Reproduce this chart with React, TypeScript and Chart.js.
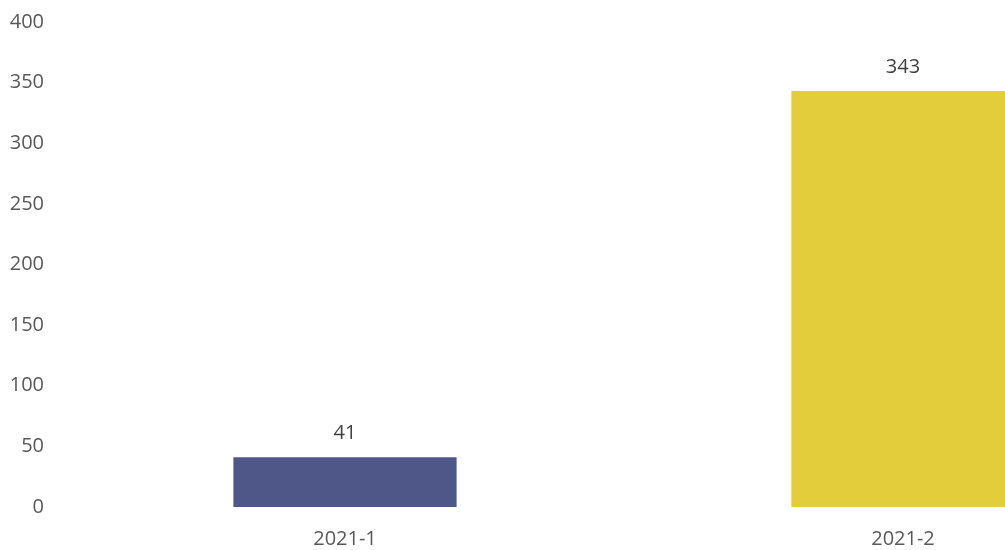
import React, { useEffect, useRef } from "react";
import { Chart, registerables } from "chart.js";

Chart.register(...registerables);

const categories = ["2021-1", "2021-2"];
const values = [41, 343];
const barColors = ["#4F5688", "#E4CD3B"];
const yTicks = [0, 50, 100, 150, 200, 250, 300, 350, 400];

const FONT = "'Open Sans', 'DejaVu Sans', sans-serif";

const valueLabelPlugin = {
  id: "valueLabels",
  afterDatasetsDraw(chart: any) {
    const ctx = chart.ctx;
    const meta = chart.getDatasetMeta(0);
    ctx.save();
    ctx.font = `20px ${FONT}`;
    ctx.fillStyle = "#404040";
    ctx.textAlign = "center";
    ctx.textBaseline = "middle";
    meta.data.forEach((bar: any, i: number) => {
      ctx.fillText(String(values[i]), bar.x, bar.y - 24);
    });
    ctx.restore();
  },
};

export default function App() {
  const ref = useRef<HTMLCanvasElement | null>(null);
  useEffect(() => {
    document.body.style.margin = "0";
    const chart = new Chart(ref.current!, {
      type: "bar",
      data: {
        labels: categories,
        datasets: [
          {
            data: values,
            backgroundColor: barColors,
            barPercentage: 0.4,
            categoryPercentage: 1,
          },
        ],
      },
      options: {
        animation: false,
        responsive: false,
        maintainAspectRatio: false,
        layout: { padding: { top: 22, right: 18, left: 0, bottom: 0 } },
        plugins: { legend: { display: false }, tooltip: { enabled: false } },
        scales: {
          x: {
            grid: { display: false, drawTicks: false },
            border: { display: false },
            ticks: {
              color: "#595959",
              font: { family: FONT, size: 20 },
              padding: 20,
              maxRotation: 0,
            },
            afterFit: (s: any) => {
              s.height = 43;
            },
          },
          y: {
            min: 0,
            max: 400,
            grid: { display: false, drawTicks: false },
            border: { display: false },
            afterBuildTicks: (s: any) => {
              s.ticks = yTicks.map((v) => ({ value: v }));
            },
            ticks: {
              color: "#595959",
              font: { family: FONT, size: 20 },
              padding: 22,
            },
            afterFit: (s: any) => {
              s.width = 66;
              s.paddingTop = 0;
              s.paddingBottom = 0;
            },
          },
        },
      },
      plugins: [valueLabelPlugin],
    });
    return () => chart.destroy();
  }, []);
  return (
    <div
      style={{
        position: "fixed",
        left: 0,
        top: 0,
        width: 1005,
        height: 550,
        overflow: "hidden",
        background: "#fff",
      }}
    >
      <canvas ref={ref} width={1200} height={550} style={{ display: "block" }} />
    </div>
  );
}
